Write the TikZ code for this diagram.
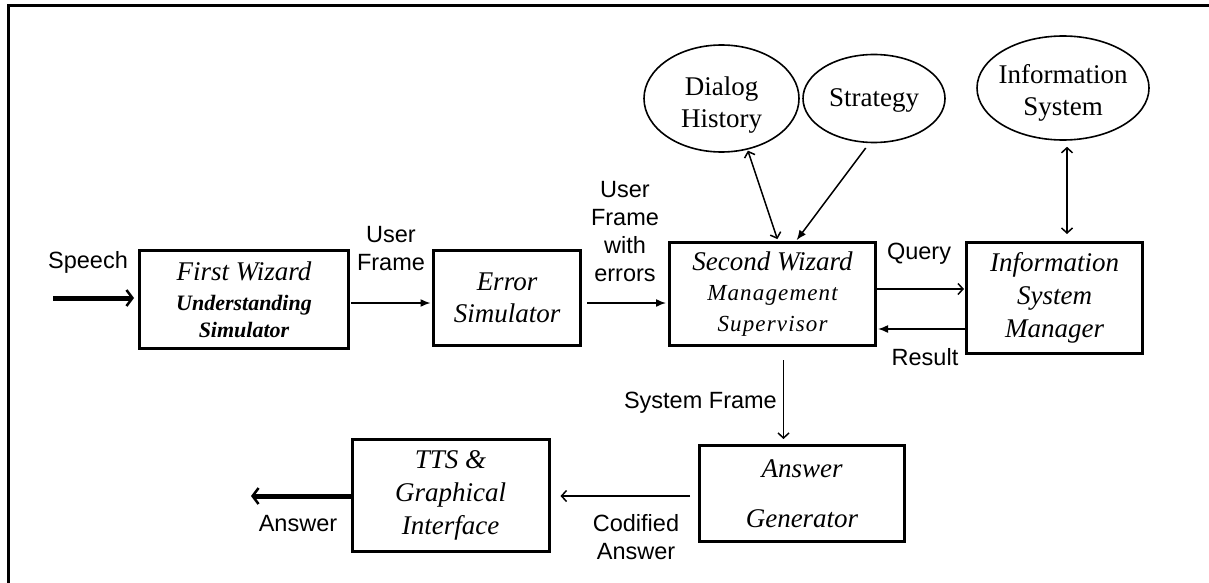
\documentclass[tikz,border=0pt]{standalone}
\usepackage{fontspec}
\setmainfont{Liberation Serif}
\setsansfont{Liberation Sans}
\usetikzlibrary{arrows.meta,shapes.geometric}
\newcommand{\bigit}{\fontsize{27}{33}\selectfont\itshape}
\newcommand{\subbf}{\fontsize{22}{26}\selectfont\bfseries\itshape}
\newcommand{\subsp}{\fontsize{23}{29}\selectfont\itshape\addfontfeature{LetterSpace=5}}
\begin{document}
\begin{tikzpicture}[x=1pt,y=-1pt,
  blk/.style={draw, line width=3pt, rectangle, inner sep=0pt, align=center, font=\bigit},
  oval/.style={draw, line width=1.6pt, ellipse, inner sep=0pt},
  ovaltext/.style={inner sep=0pt, align=center, font=\fontsize{27}{32}\selectfont},
  lbl/.style={inner sep=0pt, align=center, font=\sffamily\fontsize{23.5}{28}\selectfont},
  conn/.style={line width=1.5pt, -{Latex[length=10pt,width=8pt]}},
  oconn/.style={line width=1.5pt, -{Straight Barb[length=5pt,width=11pt,line width=1.5pt]}},
  dconn/.style={line width=1.5pt, {Straight Barb[length=5pt,width=11pt,line width=1.5pt]}-{Straight Barb[length=5pt,width=11pt,line width=1.5pt]}},
  thk/.style={line width=5pt, -{Straight Barb[length=6pt,width=16pt,line width=2.5pt]}},
  frame/.style={line width=3pt}
]
\useasboundingbox (0,0) rectangle (1209,583);
\draw[frame] (8,583) -- (8,6) -- (1209,6);

% boxes
\node[blk, minimum width=209pt, minimum height=98pt] (fw) at (244,299.5)
  {First Wizard\\[-3pt]{\subbf Understanding}\\[-6pt]{\subbf Simulator}};
\node[blk, minimum width=147pt, minimum height=95pt] (es) at (507,298)
  {Error\\[-1pt]Simulator};
\node[blk, minimum width=206pt, minimum height=103pt] (sw) at (772.5,294)
  {Second Wizard\\[-3pt]{\subsp Management}\\[-2pt]{\subsp Supervisor}};
\node[blk, minimum width=176pt, minimum height=111pt] (ism) at (1054.5,298)
  {Information\\System\\Manager};
\node[blk, minimum width=197pt, minimum height=112pt] (tts) at (450.5,495.5)
  {TTS \&\\Graphical\\Interface};
\node[blk, minimum width=205pt, minimum height=96pt] (ag) at (802,493.5)
  {Answer\\[17pt]Generator};

% ellipses
\node[oval, minimum width=155pt, minimum height=107pt] (dh) at (721.5,98.5) {};
\node[ovaltext] (dhT) at (721.5,105) {Dialog\\History};
\node[oval, minimum width=142pt, minimum height=88pt] (st) at (874,98.5) {};
\node[ovaltext] (stT) at (874,100) {Strategy};
\node[oval, minimum width=172pt, minimum height=104pt] (is) at (1063,88) {};
\node[ovaltext] (isT) at (1063,93) {Information\\System};

% labels
\node[lbl] (lSpeech) at (88,262) {Speech};
\node[lbl] (lUF) at (391,249) {User\\Frame};
\node[lbl] (lUFE) at (625,232) {User\\Frame\\with\\errors};
\node[lbl] (lQuery) at (919,254) {Query};
\node[lbl] (lResult) at (925,357) {Result};
\node[lbl, anchor=east] (lSF) at (777,403) {System Frame};
\node[lbl] (lCA) at (636,537) {Codified\\Answer};
\node[lbl] (lAns) at (298,524) {Answer};

% connectors
\coordinate (speechIn) at (53,298);
\coordinate (ansOut) at (251,496);
\draw[thk, shorten >=4pt] (speechIn) -- (speechIn -| fw.west);
\draw[conn, shorten <=1pt, shorten >=1.5pt] ([yshift=-3.5pt]fw.east) -- ([yshift=-3.5pt]fw.east -| es.west);
\draw[conn, shorten <=5pt, shorten >=2pt] ([yshift=-5pt]es.east) -- ([yshift=-5pt]es.east -| sw.west);
\draw[oconn, shorten >=1pt] ([yshift=5pt]sw.east) -- ([yshift=5pt]sw.east -| ism.west);
\draw[conn, shorten >=1pt] ([yshift=-31pt]ism.west) -- ([yshift=-31pt]ism.west -| sw.east);
\draw[dconn, shorten <=1pt, shorten >=2pt] (dh.-63) -- ([xshift=5.5pt]sw.north);
\draw[conn, shorten <=6pt, shorten >=1pt] (st.-96) -- ([xshift=23.5pt]sw.north);
\draw[dconn, shorten <=6pt, shorten >=7pt] ([xshift=4pt]is.south) -- ([xshift=4pt]is.south |- ism.north);
\draw[oconn, shorten <=13pt, shorten >=5pt] ([xshift=11pt]sw.south) -- ([xshift=11pt]sw.south |- ag.north);
\draw[oconn, shorten <=8pt, shorten >=10pt] ([yshift=-2.5pt]ag.west) -- ([yshift=-2.5pt]ag.west -| tts.east);
\draw[thk] (tts.west |- ansOut) -- (ansOut);
\end{tikzpicture}
\end{document}
